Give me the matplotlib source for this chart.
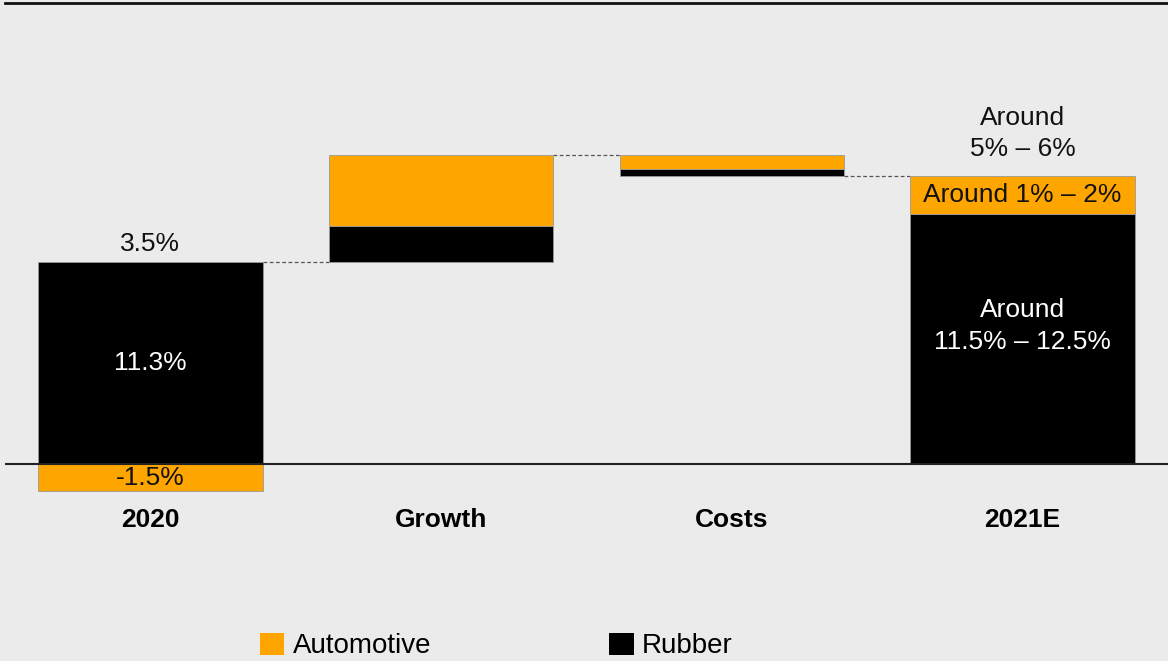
import matplotlib
matplotlib.use('Agg')
import matplotlib.pyplot as plt
from matplotlib.patches import Patch

plt.rcParams['font.family'] = ['Liberation Sans', 'DejaVu Sans']

# Data (percentage points)
categories = ['2020', 'Growth', 'Costs', '2021E']
rubber = [11.3, 2.0, -0.4, 14.0]
automotive = [-1.5, 4.0, -0.8, 2.1]
top_labels = ['3.5%', '', '', 'Around\n5% – 6%']
rubber_labels = ['11.3%', '', '', 'Around\n11.5% – 12.5%']
auto_labels = ['-1.5%', '', '', 'Around 1% – 2%']

BG = '#EBEBEB'
ORANGE = '#FFA500'
BLACK = '#000000'
EDGE = '#9a9a9a'

fig = plt.figure(figsize=(11.68, 6.61), dpi=100, facecolor=BG)
ax = fig.add_axes([5/1168, (661-500)/661, 1163/1168, 497/661])
ax.set_facecolor(BG)

x = list(range(len(categories)))
w = 0.773

# bottoms for the waterfall
rub_bottom = []
auto_bottom = []
level = 0.0
for i in x:
    r, a = rubber[i], automotive[i]
    if i == 0 or i == len(x) - 1:
        # full bars starting from zero
        rub_bottom.append(0)
        auto_bottom.append(r if a > 0 else 0)
        level = r if a < 0 else r + a
    elif r >= 0:
        rub_bottom.append(level)
        auto_bottom.append(level + r)
        level = level + r + a
    else:
        # negative step: orange on top, black below
        auto_bottom.append(level)
        rub_bottom.append(level + a)
        level = level + a + r

ax.bar(x, rubber, w, bottom=rub_bottom, color=BLACK, edgecolor=EDGE, linewidth=0.6, zorder=3)
ax.bar(x, automotive, w, bottom=auto_bottom, color=ORANGE, edgecolor=EDGE, linewidth=0.6, zorder=3)

# connectors
tops = []
for i in x:
    ends = [rub_bottom[i], rub_bottom[i] + rubber[i], auto_bottom[i], auto_bottom[i] + automotive[i]]
    tops.append((max(ends), min(ends)))
conn_levels = [tops[0][0], tops[1][0], tops[2][1]]
for i, lv in enumerate(conn_levels):
    ax.plot([i + w/2, i + 1 - w/2], [lv, lv], color='#555555', lw=0.9, ls=(0, (3, 2)), zorder=2)

# labels
px = 72 / 100
for i in x:
    if top_labels[i]:
        off = 6 if '\n' not in top_labels[i] else 15
        ax.annotate(top_labels[i], (i, tops[i][0]), xytext=(0, off * px), textcoords='offset points',
                    ha='center', va='bottom', fontsize=19, color='#111111', linespacing=1.4)
    if rubber_labels[i]:
        ym = rub_bottom[i] + rubber[i] / 2
        off = 0 if '\n' not in rubber_labels[i] else 13
        ax.annotate(rubber_labels[i], (i, ym), xytext=(0, off * px), textcoords='offset points',
                    ha='center', va='center', fontsize=19, color='white', linespacing=1.4)
    if auto_labels[i]:
        ym = auto_bottom[i] + automotive[i] / 2
        ax.text(i, ym, auto_labels[i], ha='center', va='center', fontsize=19, color='#111111', zorder=4)

ax.axhline(0, color='#222222', lw=1.5, zorder=4)
ax.set_xlim(-0.5, 3.5)
ax.set_ylim(-2.0, 25.8)
ax.set_xticks(x)
ax.set_xticklabels(categories, fontsize=19, fontweight='bold')
ax.tick_params(axis='x', length=0, pad=5.5)
ax.set_yticks([])
for s in ['left', 'right', 'bottom']:
    ax.spines[s].set_visible(False)
ax.spines['top'].set_color('#111111')
ax.spines['top'].set_linewidth(2)

handles = [Patch(facecolor=ORANGE, label='Automotive'), Patch(facecolor=BLACK, label='Rubber')]
fig.legend(handles=handles, loc='center left', bbox_to_anchor=(260/1168, 15/661), ncol=2, frameon=False,
           fontsize=20, handlelength=0.88, handleheight=0.88, handletextpad=0.3, columnspacing=6.4,
           borderpad=0, borderaxespad=0)

fig.savefig('out.png', dpi=100, facecolor=BG)
